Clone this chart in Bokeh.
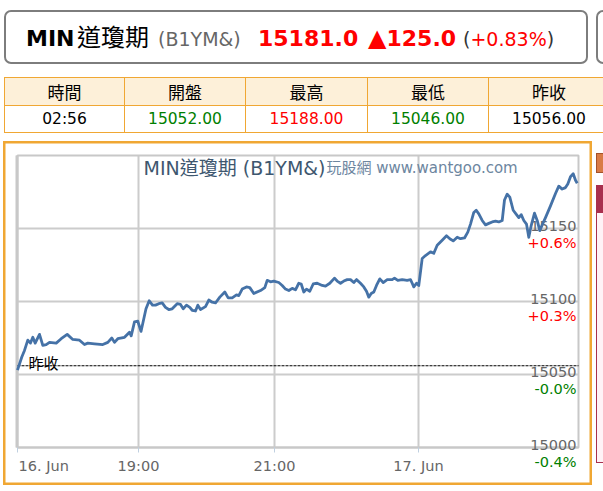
import re
from bokeh.plotting import figure
from bokeh.models import Range1d, Div, ColumnDataSource
from bokeh.layouts import column, row, Spacer
from bokeh.core.properties import value
from bokeh.embed import file_html
from bokeh.resources import INLINE

# ---------------- data ----------------
symbol_name = "MIN道瓊期"
symbol_code = "(B1YM&)"
last_price = "15181.0"
change_abs = "125.0"
change_pct = "+0.83%"
site_text = "玩股網 www.wantgoo.com"
prev_close_label = "昨收"

quote_headers = ["時間", "開盤", "最高", "最低", "昨收"]
quote_values = ["02:56", "15052.00", "15188.00", "15046.00", "15056.00"]
quote_colors = ["#000000", "#008000", "#FF0000", "#008000", "#000000"]

prev_close = 15056.0
y_min, y_max = 15000, 15200
y_ticks = [15000, 15050, 15100, 15150]
x_min, x_max = 0, 561                     # ordinal (trading-time) positions
x_tick_pos = [0, 121, 257, 401]
x_tick_labels = ["16. Jun", "19:00", "21:00", "17. Jun"]

pos = [0, 4.3, 7, 10.3, 13, 15.3, 17.7, 22, 25.3, 28.7, 32, 38.7, 43.7, 49.7, 55.3,
       62, 67, 70.3, 77, 85.3, 90.3, 94.3, 97, 100.3, 107, 112, 113.7, 117, 120.3,
       123.5, 128.5, 131.7, 135, 138, 141.3, 144.7, 148, 151.3, 154.7, 159.7, 163,
       165.7, 169, 172.3, 174.7, 178, 180.3, 183, 188, 191.3, 194.7, 198, 202.3,
       207.3, 210.7, 214.7, 219, 221.3, 224.7, 229, 232.3, 236.3, 243, 247.3, 249.7,
       253, 256.3, 261.3, 264.7, 268, 271.3, 274.7, 278, 281.3, 283.7, 286.3, 289,
       292.3, 295.7, 299.7, 304.7, 308, 312.3, 317, 319.7, 323, 326.3, 329.7, 333,
       336.3, 339, 343, 346.3, 349, 351.3, 353.7, 356.3, 359, 362.3, 365.7, 369.7,
       374.7, 377, 380.3, 384.7, 389.7, 393, 394.7, 396.3, 399, 401.3, 404.7, 408,
       413, 416.3, 419.7, 424.7, 429, 432.3, 435.7, 439.7, 443, 447, 450.3, 453,
       456.3, 458.7, 461.3, 464.7, 468, 471.3, 474.7, 478, 481.3, 484.7, 487, 489.7,
       492.3, 495.7, 499, 501.3, 503.7, 506.3, 509, 511.3, 513.7, 517, 519.7, 522.3,
       524.7, 528, 533, 538, 541.3, 544.7, 548, 550.3, 553, 555.7, 558, 559.7]

price = [15053, 15062, 15066.5, 15073.5, 15071.5, 15075.5, 15071.5, 15077.5, 15070,
         15070.5, 15072, 15071.5, 15074.5, 15077.5, 15074, 15073.5, 15070.5, 15071.5,
         15071, 15070.5, 15072, 15075, 15072, 15074.5, 15075.5, 15079, 15076.5, 15086,
         15086.5, 15079.5, 15095, 15100.5, 15097.5, 15097.5, 15098.5, 15099, 15096,
         15094.5, 15095, 15098.5, 15098, 15095, 15097.5, 15096, 15094, 15093.5, 15097.5,
         15094.5, 15096.5, 15101, 15099.5, 15099, 15103, 15106.5, 15102.5, 15102.5,
         15104.5, 15104, 15108.5, 15110, 15109.5, 15105.5, 15107.5, 15109.5, 15114.5,
         15113.5, 15114, 15113, 15111, 15108.5, 15107.5, 15109, 15108, 15112.5, 15112,
         15106.5, 15108.5, 15107, 15112, 15112.5, 15111, 15110.5, 15112.5, 15116, 15114,
         15112.5, 15114, 15115, 15115, 15113, 15115, 15112.5, 15110, 15107, 15103,
         15105.5, 15106.5, 15111, 15115.5, 15113, 15115, 15115, 15116, 15114.5, 15115,
         15114.5, 15115, 15112.5, 15110, 15112.5, 15111, 15129.5, 15131.5, 15134, 15133,
         15138.5, 15142, 15145, 15143, 15141.5, 15144, 15143, 15143.5, 15147.5, 15153,
         15161, 15162.5, 15160, 15155.5, 15152.5, 15153.5, 15154.5, 15155, 15154.5,
         15155.5, 15169.5, 15173.5, 15171.5, 15162.5, 15159.5, 15157.5, 15159.5, 15155.5,
         15153, 15144, 15152, 15160.5, 15155.5, 15148.5, 15152.5, 15157.5, 15165.5, 15174,
         15179, 15177, 15178, 15180.5, 15185.5, 15187.5, 15183, 15181]

# ---------------- styles ----------------
F_LAT = "DejaVu Sans, Noto Sans CJK TC, sans-serif"
F_CJK = "Noto Sans CJK TC, sans-serif"
RED = "#FF0000"
GREEN = "#008000"
ORANGE = "#F0A733"
GRID = "#CCCCCC"
LABEL_GRAY = "#666666"

# ---------------- header ----------------
m = re.match(r"([A-Za-z0-9]+)(.*)", symbol_name)
sym_lat, sym_cjk = m.group(1), m.group(2)

def span(txt, width, css):
    w = f"width:{width}px;" if width else ""
    return f'<span style="display:inline-block;{w}{css}">{txt}</span>'

header_html = (
    '<div style="position:relative;width:603px;height:70px;overflow:hidden;">'
    '<div style="position:absolute;left:4px;top:10px;width:584px;height:54px;box-sizing:border-box;'
    'border:2px solid #7d7d7d;border-radius:7px;"></div>'
    '<div style="position:absolute;left:596px;top:10px;width:7px;height:54px;box-sizing:border-box;'
    'border:2px solid #7d7d7d;border-right:none;border-radius:7px 0 0 7px;"></div>'
    '<div style="position:absolute;left:26px;top:21px;white-space:nowrap;line-height:30px;'
    f"font-family:{F_LAT};\">"
    + span(sym_lat, 51, f"font-weight:bold;font-size:22px;color:#000;font-family:{F_LAT};")
    + span(sym_cjk, 81, f"font-size:24px;color:#000;font-family:{F_CJK};")
    + span(symbol_code, 100, f"font-size:19px;color:#666;font-family:{F_LAT};")
    + span(last_price, 110, f"font-weight:bold;font-size:22px;color:{RED};font-family:{F_LAT};")
    + span('<span style="font-size:24px">&#9650;</span>' + change_abs, 95,
           f"font-weight:bold;font-size:22px;color:{RED};font-family:{F_LAT};")
    + span(f'(<span style="color:{RED}">{change_pct}</span>)', None,
           f"font-size:19px;color:#333;font-family:{F_LAT};")
    + "</div></div>"
)
header = Div(text=header_html, width=603, height=70, margin=(0, 0, 0, 0))

# ---------------- quote table ----------------
col_left = [0, 120, 241, 363, 484]
col_w = [120, 121, 122, 121, 121]
cells = []
for i, (h, v, c) in enumerate(zip(quote_headers, quote_values, quote_colors)):
    x, w = col_left[i], col_w[i]
    cells.append(
        f'<div style="position:absolute;left:{x}px;top:0px;width:{w}px;height:28px;box-sizing:border-box;'
        f'background:#FDF0D9;border-left:1px solid {ORANGE};border-top:1px solid {ORANGE};'
        f'text-align:center;line-height:27px;font-size:17px;color:#000;font-family:{F_CJK};">{h}</div>')
    cells.append(
        f'<div style="position:absolute;left:{x}px;top:28px;width:{w}px;height:28px;box-sizing:border-box;'
        f'background:#FFFFFF;border-left:1px solid {ORANGE};border-top:1px solid {ORANGE};'
        f'border-bottom:1px solid {ORANGE};text-align:center;line-height:26px;font-size:15.5px;'
        f'color:{c};font-family:{F_LAT};">{v}</div>')
table_html = (
    '<div style="position:relative;width:603px;height:71px;overflow:hidden;">'
    '<div style="position:absolute;left:4px;top:7px;width:599px;height:56px;overflow:hidden;">'
    + "".join(cells) + "</div></div>")
table = Div(text=table_html, width=603, height=71, margin=(0, 0, 0, 0))

# ---------------- chart ----------------
PLOT_H = 292                               # pixel height of the plotting box
py = (y_max - y_min) / PLOT_H              # data units per pixel (y)
pad_l, pad_r, pad_t, pad_b = 14, 14, 14, 38

p = figure(width=(x_max - x_min) + pad_l + pad_r, height=PLOT_H + pad_t + pad_b,
           x_range=Range1d(x_min - pad_l, x_max + pad_r),
           y_range=Range1d(y_min - pad_b * py, y_max + pad_t * py),
           x_axis_location=None, y_axis_location=None,
           output_backend="svg", toolbar_location=None,
           min_border=0, min_border_left=0, min_border_right=0,
           min_border_top=0, min_border_bottom=0,
           background_fill_color="white", border_fill_color="white",
           outline_line_color=ORANGE, outline_line_width=4, margin=(0, 0, 0, 0))
p.grid.visible = False

# grid lines
p.segment(x0=[x_min] * len(y_ticks), x1=[x_max] * len(y_ticks), y0=y_ticks, y1=y_ticks,
          line_color=GRID, line_width=2)
p.segment(x0=x_tick_pos, x1=x_tick_pos, y0=[y_min] * len(x_tick_pos), y1=[y_max] * len(x_tick_pos),
          line_color=GRID, line_width=2)
# plot box
p.quad(left=[x_min], right=[x_max], bottom=[y_min], top=[y_max], fill_color=None,
       line_color="#C8C8C8", line_width=2)
p.segment(x0=[x_min - 1], x1=[x_min - 1], y0=[y_min], y1=[y_max], line_color="#C8C8C8", line_width=2)
# x tick marks
p.segment(x0=x_tick_pos, x1=x_tick_pos, y0=[y_min] * len(x_tick_pos),
          y1=[y_min - 5 * py] * len(x_tick_pos), line_color="#C0D0E0", line_width=1)

# previous close
p.segment(x0=[x_min], x1=[x_max], y0=[prev_close], y1=[prev_close], line_color="#000000",
          line_dash="3 1", line_width=1.2)

# y labels: value above each grid line, % change vs previous close below
pcts = [(t - prev_close) / prev_close * 100 for t in y_ticks]
ylab = ColumnDataSource(dict(
    x=[x_max - 2] * len(y_ticks),
    yv=[t + 3 * py for t in y_ticks],
    yp=[t - 14.5 * py for t in y_ticks],
    tv=[f"{t}" for t in y_ticks],
    tp=[f"{v:+.1f}%" for v in pcts],
    cp=[RED if v > 0 else GREEN for v in pcts],
))
p.text(x="x", y="yv", text="tv", source=ylab, text_align="right", text_baseline="alphabetic",
       text_font=value(F_LAT), text_font_size=value("14.5px"), text_color=LABEL_GRAY)
p.text(x="x", y="yp", text="tp", source=ylab, text_align="right", text_baseline="alphabetic",
       text_font=value(F_LAT), text_font_size=value("14.5px"), text_color="cp")

# x labels (first one justified to the left edge)
first = [(xp, lab) for xp, lab in zip(x_tick_pos, x_tick_labels) if xp == x_min]
rest = [(xp, lab) for xp, lab in zip(x_tick_pos, x_tick_labels) if xp != x_min]
for items, align, dx in ((first, "left", 1), (rest, "center", 0)):
    p.text(x=[xp + dx for xp, _ in items], y=[y_min - 18 * py] * len(items),
           text=[lab for _, lab in items], text_align=align, text_baseline="alphabetic",
           text_font=value(F_LAT), text_font_size=value("14.5px"), text_color=LABEL_GRAY)

# previous-close tag
p.text(x=[x_min + 11], y=[prev_close + 3 * py], text=[prev_close_label], text_align="left",
       text_baseline="alphabetic", text_font=value(F_CJK), text_font_size=value("15px"),
       text_color="#000000")

# title / subtitle
p.text(x=[x_min + 126], y=[y_max - 12 * py], text=[f"{symbol_name} {symbol_code}"],
       text_align="left", text_baseline="middle", text_font=value(F_LAT),
       text_font_size=value("19px"), text_color="#3E576F")
p.text(x=[x_min + 309], y=[y_max - 12 * py], text=[site_text], text_align="left",
       text_baseline="middle", text_font=value(F_LAT), text_font_size=value("15px"),
       text_color="#6D869F")

# price line
p.line(pos, price, line_color="#4572A7", line_width=2.8, line_join="round")

# decoration boxes at the right edge
deco_html = (
    '<div style="position:relative;width:11px;height:344px;overflow:hidden;">'
    '<div style="position:absolute;left:4px;top:12px;width:7px;height:20px;box-sizing:border-box;'
    'background:#D97B45;border:1px solid #A4522A;border-right:none;"></div>'
    '<div style="position:absolute;left:4px;top:44px;width:7px;height:278px;box-sizing:border-box;'
    'background:#FFF3F7;border:1px solid #A8304E;border-right:none;"></div>'
    '<div style="position:absolute;left:4px;top:44px;width:7px;height:28px;background:#A8304E;"></div>'
    '</div>')
deco = Div(text=deco_html, width=11, height=344, margin=(0, 0, 0, 0))

chart_row = row(Spacer(width=3, height=344), p, deco, spacing=0)
root = column(header, table, chart_row, spacing=0)

open("out.html", "w").write(file_html(root, INLINE, "chart"))
